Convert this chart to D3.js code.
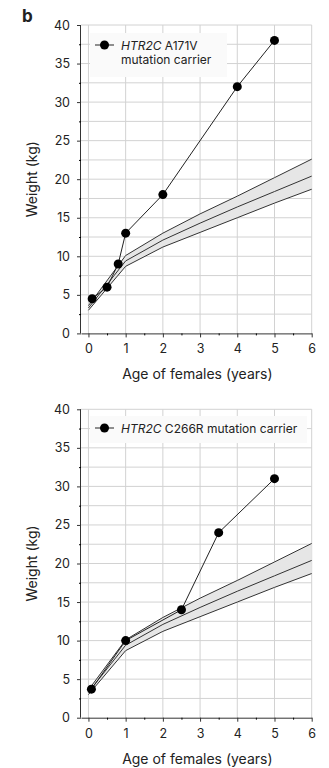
<!DOCTYPE html>
<html>
<head>
<meta charset="utf-8">
<script src="https://cdn.jsdelivr.net/npm/d3@7"></script>
<style>
  body { margin: 0; background: #fff; }
  text { font-family: Inter, "Noto Sans", sans-serif; fill: #222; }
</style>
</head>
<body>
<div id="chart"></div>
<script>
// reference growth band (females)
var refAges  = [0, 1, 2, 3, 4, 5, 6];
var refUpper = [3.6, 10.1, 13.0, 15.5, 17.8, 20.2, 22.6];
var refMean  = [3.3, 9.4, 12.1, 14.3, 16.4, 18.4, 20.4];
var refLower = [3.0, 8.7, 11.2, 13.1, 15.0, 16.9, 18.7];

// carrier A171V
var a171vAges    = [0.1, 0.5, 0.8, 1, 2, 4, 5];
var a171vWeights = [4.5, 6, 9, 13, 18, 32, 38];

// carrier C266R
var c266rAges    = [0.08, 1, 2.5, 3.5, 5];
var c266rWeights = [3.7, 10, 14, 24, 31];

var xTicks = [0, 1, 2, 3, 4, 5, 6];
var yTicks = [0, 5, 10, 15, 20, 25, 30, 35, 40];

var width = 329, height = 768;
var left = 81, right = 311.7, plotH = 308.4;

var svg = d3.select("#chart").append("svg")
  .attr("width", width)
  .attr("height", height);

svg.append("text")
  .attr("x", 22).attr("y", 22)
  .style("font-size", "17px").style("font-weight", "bold")
  .text("b");

var x = d3.scaleLinear().domain([-0.2, 6]).range([left, right]);

function drawPanel(top, ages, weights, legend) {
  var y = d3.scaleLinear().domain([0, 40]).range([top + plotH, top]);
  var g = svg.append("g");

  // grid
  g.selectAll(".hg").data(d3.range(2.5, 40.1, 2.5)).enter().append("line")
    .attr("x1", left).attr("x2", right)
    .attr("y1", function(d) { return y(d); }).attr("y2", function(d) { return y(d); })
    .attr("stroke", "#d2d2d2").attr("stroke-width", 1);
  g.selectAll(".vg").data(xTicks).enter().append("line")
    .attr("x1", function(d) { return x(d); }).attr("x2", function(d) { return x(d); })
    .attr("y1", y(0)).attr("y2", y(40))
    .attr("stroke", "#d2d2d2").attr("stroke-width", 1);

  // band
  var band = refAges.map(function(a, i) { return { a: a, lo: refLower[i], hi: refUpper[i], m: refMean[i] }; });
  g.append("path").datum(band)
    .attr("d", d3.area().x(function(d) { return x(d.a); })
      .y0(function(d) { return y(d.lo); }).y1(function(d) { return y(d.hi); }))
    .attr("fill", "#e6e6e6");
  ["lo", "m", "hi"].forEach(function(k) {
    g.append("path").datum(band)
      .attr("d", d3.line().x(function(d) { return x(d.a); }).y(function(d) { return y(d[k]); }))
      .attr("fill", "none").attr("stroke", "#333").attr("stroke-width", 1);
  });

  // axes
  var yAxis = g.append("g").attr("transform", "translate(" + left + ",0)")
    .call(d3.axisLeft(y).tickValues(yTicks).tickSize(4).tickPadding(7));
  g.append("g").attr("transform", "translate(" + left + ",0)")
    .call(d3.axisLeft(y).tickValues(d3.range(2.5, 40, 5)).tickSize(2).tickFormat(""))
    .select(".domain").remove();
  var xAxis = g.append("g").attr("transform", "translate(0," + y(0) + ")")
    .call(d3.axisBottom(x).tickValues(xTicks).tickSize(4).tickPadding(7).tickSizeOuter(0)
      .tickFormat(d3.format("d")));
  g.append("g").attr("transform", "translate(0," + y(0) + ")")
    .call(d3.axisBottom(x).tickValues(d3.range(0.5, 6, 1)).tickSize(2).tickFormat(""))
    .select(".domain").remove();
  [yAxis, xAxis].forEach(function(a) {
    a.selectAll("text").style("font-size", "12.5px").style("font-family", "Inter, sans-serif").attr("fill", "#333");
    a.selectAll("line, path").attr("stroke", "#333");
  });
  yAxis.select(".domain").attr("d", "M-0.5," + (y(0)) + "V" + y(40));

  g.append("text")
    .attr("transform", "translate(37," + (top + plotH / 2) + ") rotate(-90)")
    .attr("text-anchor", "middle")
    .style("font-size", "14px")
    .text("Weight (kg)");
  g.append("text")
    .attr("x", (left + right) / 2 + 1).attr("y", y(0) + 46)
    .attr("text-anchor", "middle")
    .style("font-size", "14px")
    .text("Age of females (years)");

  // carrier series
  var pts = ages.map(function(a, i) { return [a, weights[i]]; });
  g.append("path").datum(pts)
    .attr("d", d3.line().x(function(d) { return x(d[0]); }).y(function(d) { return y(d[1]); }))
    .attr("fill", "none").attr("stroke", "#222").attr("stroke-width", 1);
  g.selectAll(".pt").data(pts).enter().append("circle")
    .attr("cx", function(d) { return x(d[0]); }).attr("cy", function(d) { return y(d[1]); })
    .attr("r", 4.5).attr("fill", "#000");

  // legend
  var lg = g.append("g");
  lg.append("rect")
    .attr("x", legend.x).attr("y", legend.y).attr("width", legend.w).attr("height", legend.h)
    .attr("fill", "#fafafa");
  var my = legend.y + 12;
  lg.append("line").attr("x1", legend.x + 5).attr("x2", legend.x + 24)
    .attr("y1", my).attr("y2", my).attr("stroke", "#222").attr("stroke-width", 1);
  lg.append("circle").attr("cx", legend.x + 14.5).attr("cy", my).attr("r", 4.5).attr("fill", "#000");
  legend.lines.forEach(function(line, i) {
    var t = lg.append("text")
      .attr("x", legend.x + 31).attr("y", my + 4.5 + i * 14)
      .style("font-size", "12px").attr("fill", "#333");
    if (line[0]) t.append("tspan").style("font-style", "italic").text(line[0]);
    t.append("tspan").text(line[1]);
  });
}

drawPanel(25, a171vAges, a171vWeights,
  { x: 90, y: 33, w: 137, h: 44, lines: [["HTR2C", " A171V"], ["", "mutation carrier"]] });
drawPanel(409.3, c266rAges, c266rWeights,
  { x: 90, y: 416, w: 217, h: 27, lines: [["HTR2C", " C266R mutation carrier"]] });
</script>
</body>
</html>
